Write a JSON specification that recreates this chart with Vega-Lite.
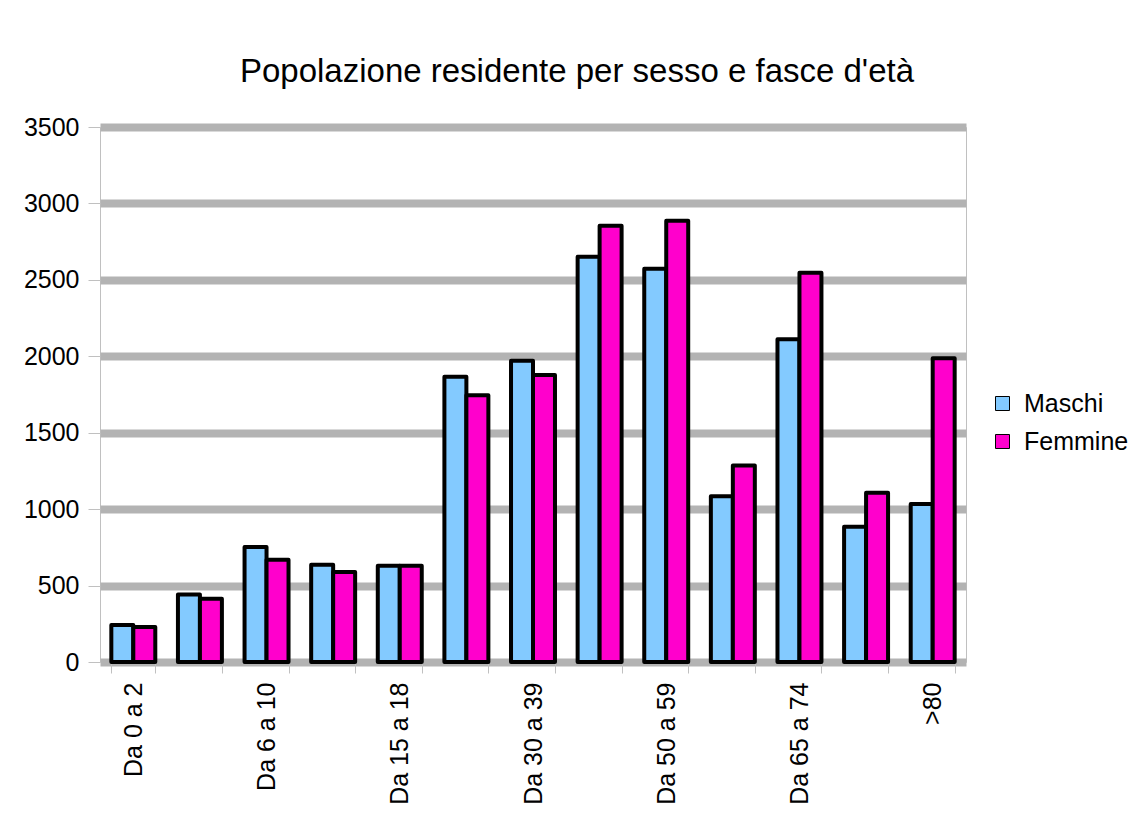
{
  "$schema": "https://vega.github.io/schema/vega-lite/v6.json",
  "width": 866,
  "height": 535,
  "autosize": {"type": "none"},
  "padding": {"left": 100, "top": 127, "right": 171, "bottom": 161},
  "background": "white",
  "title": {
    "text": "Popolazione residente per sesso e fasce d'età",
    "font": "Liberation Sans",
    "fontSize": 33,
    "fontWeight": "normal",
    "color": "#000000",
    "anchor": "middle",
    "frame": "group",
    "dx": 44,
    "dy": -22
  },
  "data": {
    "values": [
      {"fascia": "Da 0 a 2", "sesso": "Maschi", "n": 242},
      {"fascia": "Da 0 a 2", "sesso": "Femmine", "n": 229},
      {"fascia": "Da 3 a 5", "sesso": "Maschi", "n": 442},
      {"fascia": "Da 3 a 5", "sesso": "Femmine", "n": 414},
      {"fascia": "Da 6 a 10", "sesso": "Maschi", "n": 752},
      {"fascia": "Da 6 a 10", "sesso": "Femmine", "n": 669},
      {"fascia": "Da 11 a 14", "sesso": "Maschi", "n": 637},
      {"fascia": "Da 11 a 14", "sesso": "Femmine", "n": 588},
      {"fascia": "Da 15 a 18", "sesso": "Maschi", "n": 630},
      {"fascia": "Da 15 a 18", "sesso": "Femmine", "n": 630},
      {"fascia": "Da 19 a 29", "sesso": "Maschi", "n": 1866},
      {"fascia": "Da 19 a 29", "sesso": "Femmine", "n": 1745},
      {"fascia": "Da 30 a 39", "sesso": "Maschi", "n": 1970},
      {"fascia": "Da 30 a 39", "sesso": "Femmine", "n": 1877},
      {"fascia": "Da 40 a 49", "sesso": "Maschi", "n": 2651},
      {"fascia": "Da 40 a 49", "sesso": "Femmine", "n": 2854},
      {"fascia": "Da 50 a 59", "sesso": "Maschi", "n": 2572},
      {"fascia": "Da 50 a 59", "sesso": "Femmine", "n": 2886},
      {"fascia": "Da 60 a 64", "sesso": "Maschi", "n": 1085},
      {"fascia": "Da 60 a 64", "sesso": "Femmine", "n": 1286},
      {"fascia": "Da 65 a 74", "sesso": "Maschi", "n": 2112},
      {"fascia": "Da 65 a 74", "sesso": "Femmine", "n": 2547},
      {"fascia": "Da 75 a 79", "sesso": "Maschi", "n": 885},
      {"fascia": "Da 75 a 79", "sesso": "Femmine", "n": 1108},
      {"fascia": ">80", "sesso": "Maschi", "n": 1033},
      {"fascia": ">80", "sesso": "Femmine", "n": 1987}
    ]
  },
  "mark": {"type": "bar", "stroke": "#000000", "strokeWidth": 4, "strokeJoin": "round"},
  "encoding": {
    "x": {
      "field": "fascia",
      "type": "nominal",
      "sort": null,
      "title": null,
      "scale": {"paddingInner": 0.34, "paddingOuter": 0.17},
      "axis": {
        "labelAngle": 270,
        "labelFontSize": 25,
        "labelFont": "Liberation Sans",
        "labelColor": "#000000",
        "labelPadding": 9,
        "tickBand": "extent",
        "tickSize": 11,
        "tickColor": "#c0c0c0",
        "domain": false,
        "grid": false,
        "labelExpr": "indexof(['Da 0 a 2','Da 6 a 10','Da 15 a 18','Da 30 a 39','Da 50 a 59','Da 65 a 74','>80'], datum.value) >= 0 ? datum.label : ''"
      }
    },
    "xOffset": {"field": "sesso", "type": "nominal", "sort": ["Maschi", "Femmine"], "scale": {"paddingInner": 0, "paddingOuter": 0}},
    "y": {
      "field": "n",
      "type": "quantitative",
      "title": null,
      "scale": {"domain": [0, 3500], "nice": false},
      "axis": {
        "values": [0, 500, 1000, 1500, 2000, 2500, 3000, 3500],
        "format": "d",
        "labelFontSize": 25,
        "labelFont": "Liberation Sans",
        "labelColor": "#000000",
        "labelPadding": 9,
        "tickSize": 12,
        "tickColor": "#c0c0c0",
        "domain": false,
        "grid": true,
        "gridColor": "#b3b3b3",
        "gridWidth": 8
      }
    },
    "color": {
      "field": "sesso",
      "type": "nominal",
      "sort": ["Maschi", "Femmine"],
      "scale": {"domain": ["Maschi", "Femmine"], "range": ["#83CAFF", "#FF00CC"]},
      "legend": {
        "title": null,
        "orient": "none",
        "legendX": 890,
        "legendY": 264,
        "padding": 0,
        "symbolType": "square",
        "symbolSize": 196,
        "symbolStrokeColor": "#000000",
        "symbolStrokeWidth": 1,
        "labelFontSize": 25,
        "labelFont": "Liberation Sans",
        "labelColor": "#000000",
        "labelOffset": 9,
        "rowPadding": 12
      }
    }
  },
  "config": {
    "view": {"stroke": "#c0c0c0", "strokeWidth": 1}
  }
}
